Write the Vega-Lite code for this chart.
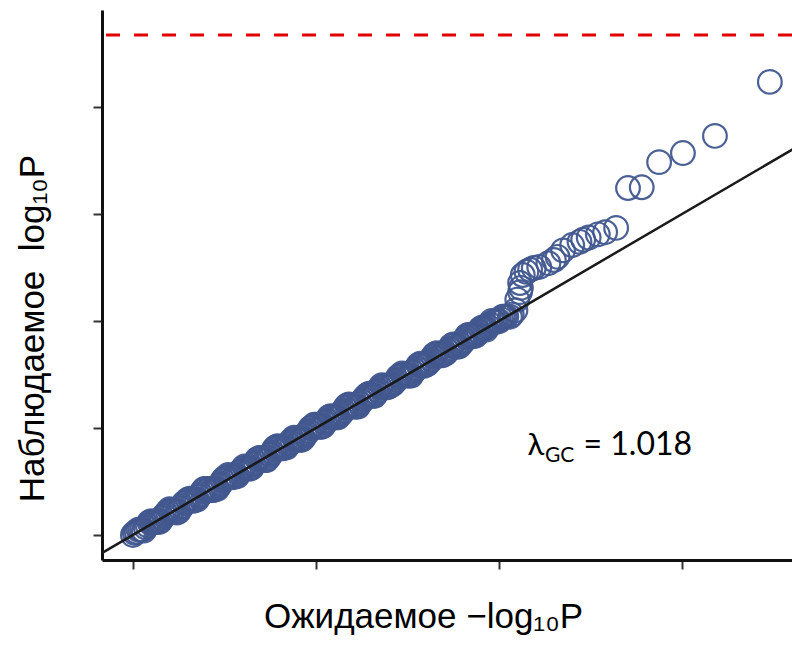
{
"$schema":"https://vega.github.io/schema/vega-lite/v6.json",
"width":690,"height":550,
"autosize":{"type":"none"},
"padding":{"left":102,"top":10,"right":0,"bottom":92},
"background":"white",
"config":{"view":{"stroke":null},"axis":{"grid":false,"labels":false,"tickSize":9,"tickWidth":2,"tickColor":"#333","domainColor":"#111","domainWidth":3,"titleFont":"Liberation Sans","titleFontSize":35,"titleFontWeight":"normal","titleColor":"#000"}},
"datasets":{
"pts":[
{"x":0.00,"y":0.00},{"x":0.01,"y":0.02},{"x":0.02,"y":0.03},{"x":0.03,"y":0.05},{"x":0.04,"y":0.05},{"x":0.05,"y":0.05},{"x":0.06,"y":0.04},{"x":0.07,"y":0.07},{"x":0.08,"y":0.09},{"x":0.09,"y":0.12},
{"x":0.10,"y":0.13},{"x":0.11,"y":0.12},{"x":0.12,"y":0.12},{"x":0.13,"y":0.13},{"x":0.14,"y":0.12},{"x":0.15,"y":0.13},{"x":0.16,"y":0.16},{"x":0.17,"y":0.18},{"x":0.18,"y":0.20},{"x":0.19,"y":0.22},
{"x":0.20,"y":0.24},{"x":0.21,"y":0.23},{"x":0.22,"y":0.23},{"x":0.23,"y":0.22},{"x":0.24,"y":0.21},{"x":0.25,"y":0.22},{"x":0.26,"y":0.25},{"x":0.27,"y":0.27},{"x":0.28,"y":0.30},{"x":0.29,"y":0.31},
{"x":0.30,"y":0.33},{"x":0.31,"y":0.34},{"x":0.32,"y":0.33},{"x":0.33,"y":0.32},{"x":0.34,"y":0.33},{"x":0.35,"y":0.33},{"x":0.36,"y":0.36},{"x":0.37,"y":0.38},{"x":0.38,"y":0.41},{"x":0.39,"y":0.43},
{"x":0.40,"y":0.43},{"x":0.41,"y":0.42},{"x":0.42,"y":0.43},{"x":0.43,"y":0.42},{"x":0.44,"y":0.42},{"x":0.45,"y":0.43},{"x":0.46,"y":0.43},{"x":0.47,"y":0.46},{"x":0.48,"y":0.48},{"x":0.49,"y":0.51},
{"x":0.50,"y":0.53},{"x":0.51,"y":0.54},{"x":0.52,"y":0.56},{"x":0.53,"y":0.55},{"x":0.54,"y":0.55},{"x":0.55,"y":0.54},{"x":0.56,"y":0.55},{"x":0.57,"y":0.55},{"x":0.58,"y":0.58},{"x":0.59,"y":0.60},
{"x":0.60,"y":0.62},{"x":0.61,"y":0.64},{"x":0.62,"y":0.63},{"x":0.63,"y":0.62},{"x":0.64,"y":0.62},{"x":0.65,"y":0.63},{"x":0.66,"y":0.66},{"x":0.67,"y":0.68},{"x":0.68,"y":0.71},{"x":0.69,"y":0.72},
{"x":0.70,"y":0.72},{"x":0.71,"y":0.71},{"x":0.72,"y":0.70},{"x":0.73,"y":0.70},{"x":0.74,"y":0.72},{"x":0.75,"y":0.75},{"x":0.76,"y":0.77},{"x":0.77,"y":0.80},{"x":0.78,"y":0.82},{"x":0.79,"y":0.83},
{"x":0.80,"y":0.82},{"x":0.81,"y":0.82},{"x":0.82,"y":0.81},{"x":0.83,"y":0.82},{"x":0.84,"y":0.82},{"x":0.85,"y":0.85},{"x":0.86,"y":0.87},{"x":0.87,"y":0.89},{"x":0.88,"y":0.91},{"x":0.89,"y":0.90},
{"x":0.90,"y":0.90},{"x":0.91,"y":0.89},{"x":0.92,"y":0.89},{"x":0.93,"y":0.90},{"x":0.94,"y":0.93},{"x":0.95,"y":0.95},{"x":0.96,"y":0.97},{"x":0.97,"y":1.00},{"x":0.98,"y":1.01},{"x":0.99,"y":1.03},
{"x":1.00,"y":1.03},{"x":1.01,"y":1.02},{"x":1.02,"y":1.01},{"x":1.03,"y":1.01},{"x":1.04,"y":1.02},{"x":1.05,"y":1.05},{"x":1.06,"y":1.07},{"x":1.07,"y":1.10},{"x":1.08,"y":1.11},{"x":1.09,"y":1.10},
{"x":1.10,"y":1.10},{"x":1.11,"y":1.10},{"x":1.12,"y":1.10},{"x":1.13,"y":1.12},{"x":1.14,"y":1.14},{"x":1.15,"y":1.16},{"x":1.16,"y":1.19},{"x":1.17,"y":1.21},{"x":1.18,"y":1.22},{"x":1.19,"y":1.21},
{"x":1.20,"y":1.21},{"x":1.21,"y":1.20},{"x":1.22,"y":1.20},{"x":1.23,"y":1.20},{"x":1.24,"y":1.23},{"x":1.25,"y":1.25},{"x":1.26,"y":1.27},{"x":1.27,"y":1.29},{"x":1.28,"y":1.31},{"x":1.29,"y":1.32},
{"x":1.30,"y":1.31},{"x":1.31,"y":1.30},{"x":1.32,"y":1.30},{"x":1.33,"y":1.33},{"x":1.34,"y":1.35},{"x":1.35,"y":1.38},{"x":1.36,"y":1.40},{"x":1.37,"y":1.39},{"x":1.38,"y":1.39},{"x":1.39,"y":1.38},
{"x":1.40,"y":1.39},{"x":1.41,"y":1.40},{"x":1.42,"y":1.41},{"x":1.43,"y":1.43},{"x":1.44,"y":1.45},{"x":1.45,"y":1.48},{"x":1.46,"y":1.49},{"x":1.47,"y":1.51},{"x":1.48,"y":1.50},{"x":1.49,"y":1.50},
{"x":1.50,"y":1.49},{"x":1.51,"y":1.49},{"x":1.52,"y":1.49},{"x":1.53,"y":1.52},{"x":1.54,"y":1.54},{"x":1.55,"y":1.56},{"x":1.56,"y":1.59},{"x":1.57,"y":1.60},{"x":1.58,"y":1.59},{"x":1.59,"y":1.58},
{"x":1.60,"y":1.59},{"x":1.61,"y":1.60},{"x":1.62,"y":1.62},{"x":1.63,"y":1.64},{"x":1.64,"y":1.67},{"x":1.65,"y":1.69},{"x":1.66,"y":1.70},{"x":1.67,"y":1.69},{"x":1.68,"y":1.68},{"x":1.69,"y":1.68},
{"x":1.70,"y":1.69},{"x":1.71,"y":1.70},{"x":1.72,"y":1.72},{"x":1.73,"y":1.74},{"x":1.74,"y":1.77},{"x":1.75,"y":1.78},{"x":1.76,"y":1.77},{"x":1.77,"y":1.76},{"x":1.78,"y":1.76},{"x":1.79,"y":1.78},
{"x":1.80,"y":1.80},{"x":1.81,"y":1.82},{"x":1.82,"y":1.85},{"x":1.83,"y":1.87},{"x":1.84,"y":1.86},{"x":1.85,"y":1.87},{"x":1.86,"y":1.86},{"x":1.87,"y":1.86},{"x":1.88,"y":1.88},{"x":1.89,"y":1.90},
{"x":1.90,"y":1.93},{"x":1.91,"y":1.94},{"x":1.92,"y":1.93},{"x":1.93,"y":1.92},{"x":1.94,"y":1.95},{"x":1.95,"y":1.97},{"x":1.96,"y":2.00},{"x":1.97,"y":1.99},{"x":1.98,"y":1.99},{"x":1.99,"y":2.00},
{"x":2.00,"y":2.00},{"x":2.01,"y":2.02},{"x":2.02,"y":2.04},{"x":2.03,"y":2.04},{"x":2.04,"y":2.04},
{"x":2.06,"y":2.04},{"x":2.07,"y":2.06},{"x":2.09,"y":2.10},{"x":2.10,"y":2.20},{"x":2.115,"y":2.27},{"x":2.12,"y":2.31},{"x":2.115,"y":2.355},{"x":2.13,"y":2.43},{"x":2.15,"y":2.46},{"x":2.17,"y":2.48},{"x":2.19,"y":2.495},{"x":2.22,"y":2.505},{"x":2.27,"y":2.54},{"x":2.30,"y":2.57},{"x":2.32,"y":2.60},{"x":2.35,"y":2.66},{"x":2.40,"y":2.71},{"x":2.44,"y":2.74},{"x":2.46,"y":2.76},{"x":2.49,"y":2.78},{"x":2.54,"y":2.81},{"x":2.58,"y":2.83},{"x":2.64,"y":2.87},
{"x":2.705,"y":3.243},{"x":2.78,"y":3.25},{"x":2.875,"y":3.485},{"x":3.005,"y":3.57},{"x":3.18,"y":3.73},{"x":3.48,"y":4.235}
],
"diag":[{"x":-0.3,"y":-0.3},{"x":3.8,"y":3.8}],
"thr":[{"y":4.673}],
"lam":[{"x":2.202,"y":0.748,"t":"λ"}],
"gc":[{"x":2.251,"y":0.682,"t":"GC"}],
"val":[{"x":2.462,"y":0.748,"t":"= 1.018"}]
},
"layer":[
{"data":{"name":"pts"},"mark":{"type":"point","shape":"circle","filled":false,"size":560,"strokeWidth":2.2,"color":"#42588f","opacity":0.95},
 "encoding":{
  "x":{"field":"x","type":"quantitative","scale":{"domain":[-0.169,3.601],"nice":false,"zero":false},"axis":{"title":"Ожидаемое −log₁₀P","values":[0,1,2,3],"titleX":321,"titleY":67,"titleBaseline":"alphabetic","titleAlign":"center"}},
  "y":{"field":"y","type":"quantitative","scale":{"domain":[-0.234,4.907],"nice":false,"zero":false},"axis":{"title":"Наблюдаемое\u00a0\u00a0log₁₀P","values":[0,1,2,3,4],"titleAngle":-90,"titleX":-59,"titleY":318,"titleBaseline":"alphabetic","titleAlign":"center"}}
 }},
{"data":{"name":"diag"},"mark":{"type":"line","clip":true,"color":"#1a1a1a","strokeWidth":2.5},
 "encoding":{
  "x":{"field":"x","type":"quantitative","scale":{"domain":[-0.169,3.601],"nice":false,"zero":false}},
  "y":{"field":"y","type":"quantitative","scale":{"domain":[-0.234,4.907],"nice":false,"zero":false}}
 }},
{"data":{"name":"thr"},"mark":{"type":"rule","color":"#e00000","strokeWidth":3,"strokeDash":[14,14]},
 "encoding":{
  "y":{"field":"y","type":"quantitative","scale":{"domain":[-0.234,4.907],"nice":false,"zero":false}}
 }},
{"data":{"name":"lam"},"mark":{"type":"text","font":"Lato","fontSize":31,"align":"center","baseline":"alphabetic","color":"#000"},
 "encoding":{
  "x":{"field":"x","type":"quantitative","scale":{"domain":[-0.169,3.601],"nice":false,"zero":false}},
  "y":{"field":"y","type":"quantitative","scale":{"domain":[-0.234,4.907],"nice":false,"zero":false}},
  "text":{"field":"t"}
 }},
{"data":{"name":"gc"},"mark":{"type":"text","font":"Lato","fontSize":21,"align":"left","baseline":"alphabetic","color":"#000"},
 "encoding":{
  "x":{"field":"x","type":"quantitative","scale":{"domain":[-0.169,3.601],"nice":false,"zero":false}},
  "y":{"field":"y","type":"quantitative","scale":{"domain":[-0.234,4.907],"nice":false,"zero":false}},
  "text":{"field":"t"}
 }},
{"data":{"name":"val"},"mark":{"type":"text","font":"Lato","fontSize":32,"align":"left","baseline":"alphabetic","color":"#000"},
 "encoding":{
  "x":{"field":"x","type":"quantitative","scale":{"domain":[-0.169,3.601],"nice":false,"zero":false}},
  "y":{"field":"y","type":"quantitative","scale":{"domain":[-0.234,4.907],"nice":false,"zero":false}},
  "text":{"field":"t"}
 }}
]
}
